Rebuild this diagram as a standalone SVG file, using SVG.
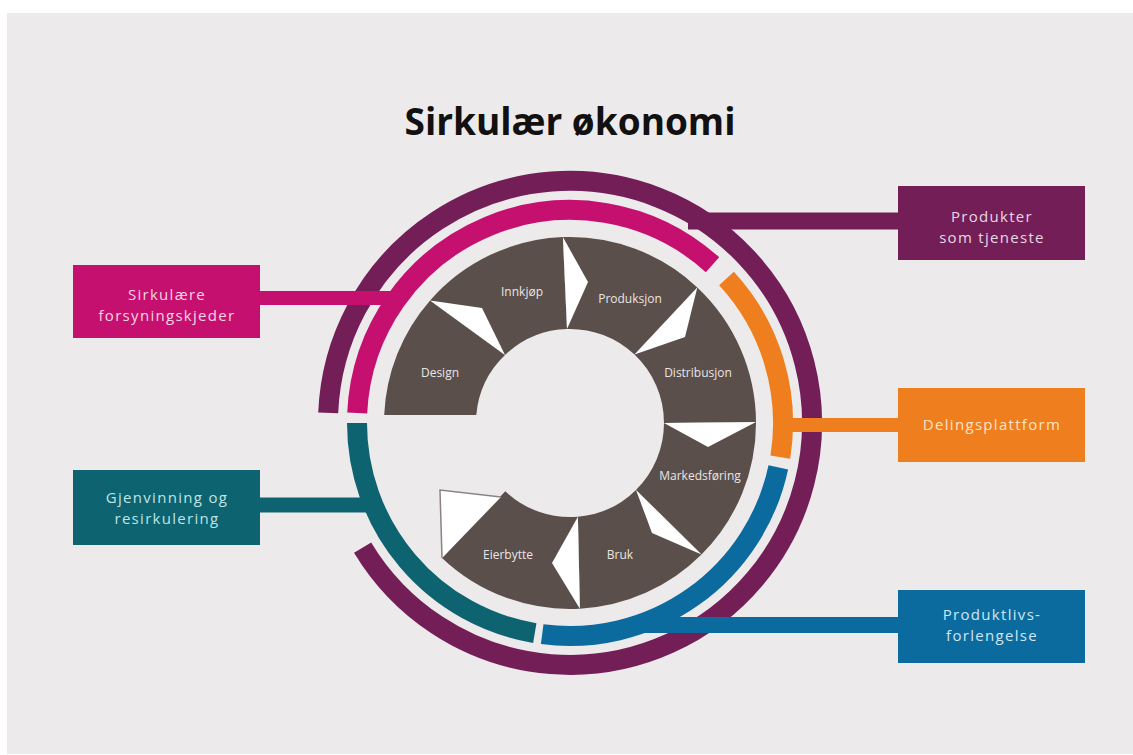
<svg xmlns="http://www.w3.org/2000/svg" width="1133" height="755" viewBox="0 0 1133 755">
<style>
.ring{fill:none;stroke-width:20}
.conn{fill:none}
.seg{fill:#5A4F4B}
.sep{fill:#FFFFFF}
.seglbl{font-family:"Open Sans","Liberation Sans",sans-serif;font-size:12px;fill:#E9E5E3;text-anchor:middle}
.boxlbl{font-family:"Open Sans","Liberation Sans",sans-serif;font-size:15px;letter-spacing:1.3px;text-anchor:middle}
.title{font-family:"Open Sans","Liberation Sans",sans-serif;font-size:37px;font-weight:bold;fill:#111111;text-anchor:middle}
</style>
<rect x="0" y="0" width="1133" height="755" fill="#FFFFFF"/>
<rect x="7" y="13" width="1126" height="741" fill="#ECEAEB"/>
<text class="title" x="570" y="135">Sirkulær økonomi</text>

<g id="rings">
  <path id="ring-purple" class="ring" stroke="#741E58" d="M 328.2 412.9 A 242 242 0 1 1 362.6 547.6"/>
  <path id="ring-pink" class="ring" stroke="#C6106F" d="M 357.2 413 A 213 213 0 0 1 712.5 264.7"/>
  <path id="ring-orange" class="ring" stroke="#EE7E1E" d="M 726.5 278.5 A 213 213 0 0 1 780.3 457.1"/>
  <path id="ring-blue" class="ring" stroke="#0B6B9F" d="M 778.3 467.3 A 213 213 0 0 1 542.2 634.2"/>
  <path id="ring-teal" class="ring" stroke="#0D6470" d="M 534.8 633.1 A 213 213 0 0 1 357 423"/>
</g>

<g id="connectors">
  <line class="conn" x1="259" y1="298" x2="396" y2="298" stroke="#C6106F" stroke-width="14"/>
  <line class="conn" x1="259" y1="505" x2="372" y2="505" stroke="#0D6470" stroke-width="15"/>
  <line class="conn" x1="688" y1="221" x2="899" y2="221" stroke="#741E58" stroke-width="17"/>
  <line class="conn" x1="779" y1="425" x2="899" y2="425" stroke="#EE7E1E" stroke-width="14"/>
  <line class="conn" x1="640" y1="625" x2="899" y2="625" stroke="#0B6B9F" stroke-width="16"/>
</g>

<g id="cycle">
  <g id="seg-design">
    <path class="seg" d="M 384.2 415 A 186 186 0 0 1 430.1 300.5 L 505 355.1 A 94 94 0 0 0 476.3 415 Z"/>
    <text class="seglbl" x="440" y="377">Design</text>
  </g>
  <g id="seg-innkjop">
    <path class="seg" d="M 430.1 300.5 A 186 186 0 0 1 562.9 237.1 L 567 329 A 94 94 0 0 0 505 355.1 Z"/>
    <text class="seglbl" x="522" y="296">Innkjøp</text>
  </g>
  <g id="seg-produksjon">
    <path class="seg" d="M 562.9 237.1 A 186 186 0 0 1 697.3 287.4 L 634.5 354.6 A 94 94 0 0 0 567 329 Z"/>
    <text class="seglbl" x="630" y="303">Produksjon</text>
  </g>
  <g id="seg-distribusjon">
    <path class="seg" d="M 697.3 287.4 A 186 186 0 0 1 756 422 L 664 423 A 94 94 0 0 0 634.5 354.6 Z"/>
    <text class="seglbl" x="698" y="377">Distribusjon</text>
  </g>
  <g id="seg-markedsforing">
    <path class="seg" d="M 756 422 A 186 186 0 0 1 701.5 554.5 L 636 489.9 A 94 94 0 0 0 664 423 Z"/>
    <text class="seglbl" x="700" y="480">Markedsføring</text>
  </g>
  <g id="seg-bruk">
    <path class="seg" d="M 701.5 554.5 A 186 186 0 0 1 579.9 608.7 L 577.9 516.7 A 94 94 0 0 0 636 489.9 Z"/>
    <text class="seglbl" x="620" y="559">Bruk</text>
  </g>
  <g id="seg-eierbytte">
    <path class="seg" d="M 579.9 608.7 A 186 186 0 0 1 442 557.9 L 505.3 491.2 A 94 94 0 0 0 577.9 516.7 Z"/>
    <text class="seglbl" x="508" y="559">Eierbytte</text>
  </g>
  <g id="arrows">
    <polygon class="sep" points="430.1,300.5 482,308 505,355.1"/>
    <polygon class="sep" points="562.9,237.1 588,282 567,329"/>
    <polygon class="sep" points="697.3,287.4 685,337 634.5,354.6"/>
    <polygon class="sep" points="756,422 708,447 664,423"/>
    <polygon class="sep" points="701.5,554.5 652,533 636,489.9"/>
    <polygon class="sep" points="579.9,608.7 552,563 577.9,516.7"/>
    <polygon class="sep" points="440,490 501,497 442,558"/>
    <polyline points="442,558 440,490 501,497" fill="none" stroke="#8A8382" stroke-width="1.5"/>
  </g>
</g>

<g id="box-sirkulaere">
  <rect x="73" y="265" width="187" height="73" fill="#C6106F"/>
  <text class="boxlbl" fill="#F6D3E3"><tspan x="167" y="300">Sirkulære</tspan><tspan x="167" y="321">forsyningskjeder</tspan></text>
</g>
<g id="box-gjenvinning">
  <rect x="73" y="470" width="187" height="75" fill="#0D6470"/>
  <text class="boxlbl" fill="#BFE3E6"><tspan x="167" y="503">Gjenvinning og</tspan><tspan x="167" y="524">resirkulering</tspan></text>
</g>
<g id="box-produkter">
  <rect x="898" y="186" width="187" height="74" fill="#741E58"/>
  <text class="boxlbl" fill="#E9D7E3"><tspan x="992" y="222">Produkter</tspan><tspan x="992" y="243">som tjeneste</tspan></text>
</g>
<g id="box-deling">
  <rect x="898" y="388" width="187" height="74" fill="#EE7E1E"/>
  <text class="boxlbl" fill="#FCE3C4" x="992" y="430">Delingsplattform</text>
</g>
<g id="box-produktliv">
  <rect x="898" y="590" width="187" height="73" fill="#0B6B9F"/>
  <text class="boxlbl" fill="#CFE6F3"><tspan x="992" y="620">Produktlivs-</tspan><tspan x="992" y="641">forlengelse</tspan></text>
</g>
</svg>
